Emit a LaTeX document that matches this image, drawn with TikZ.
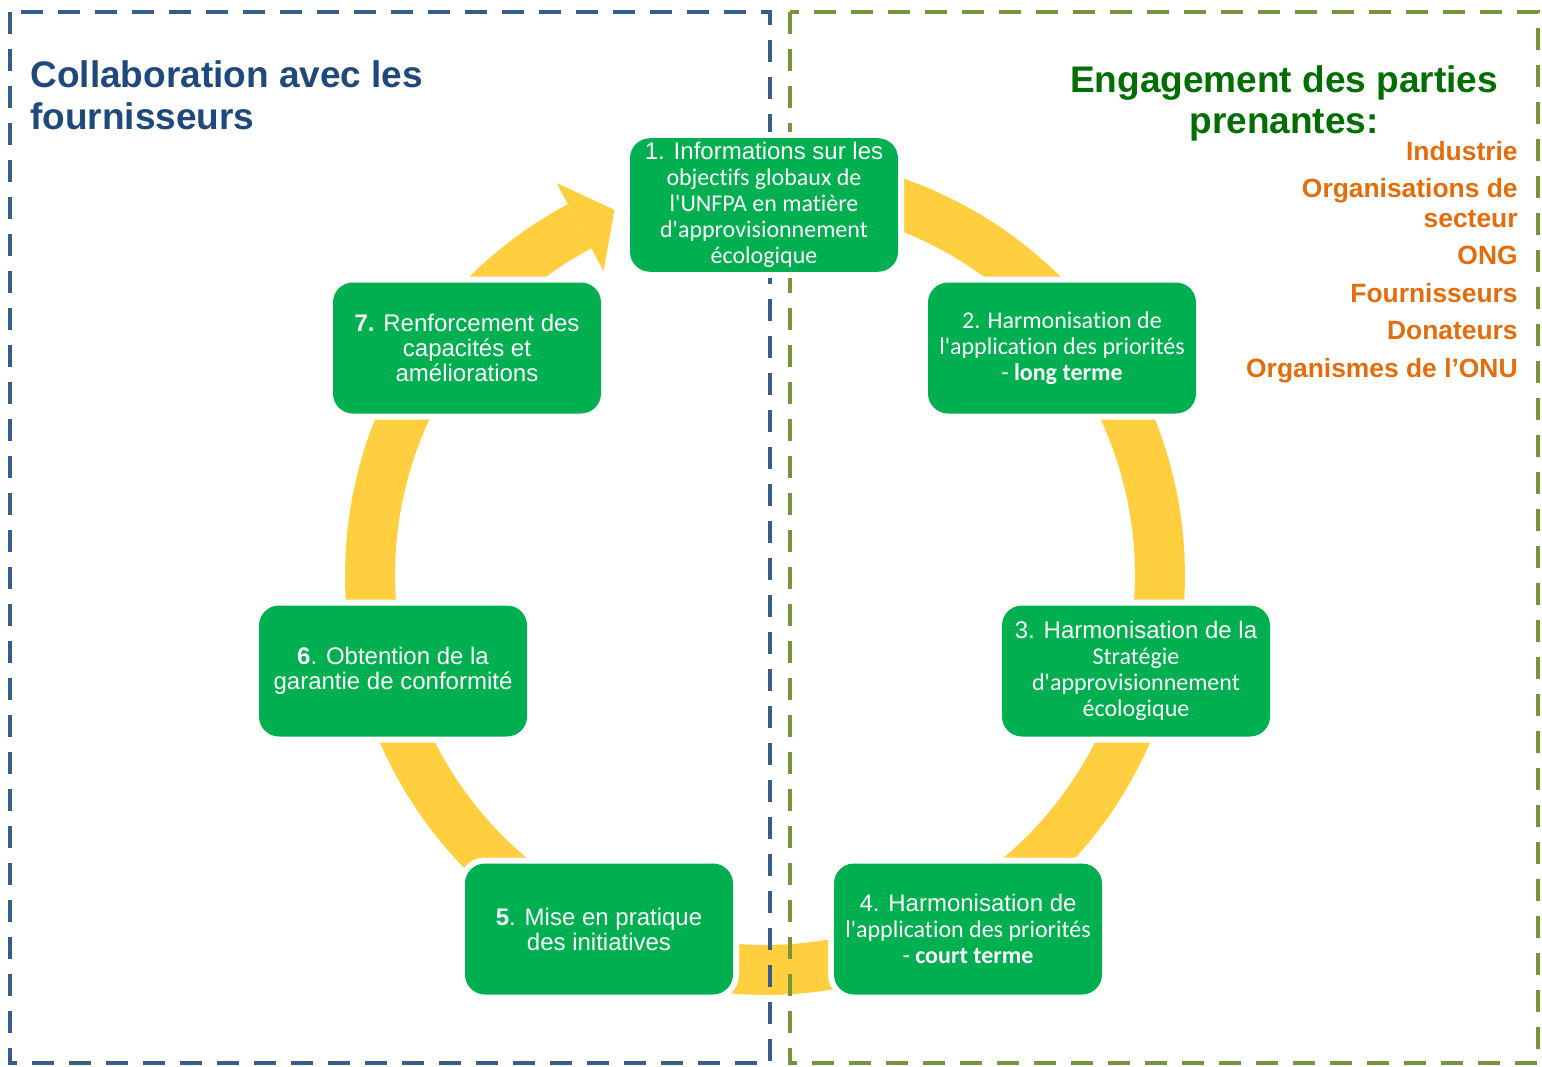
\documentclass[tikz,border=0pt]{standalone}
\usepackage{fontspec}
\setmainfont{Liberation Sans}
\newfontfamily\arialf{Liberation Sans}[Ligatures={TeXOff,CommonOff}]
\newfontfamily\calf{Carlito}[Ligatures={TeXOff,CommonOff,ContextualOff}, RawFeature={-liga;-clig;-calt}]
\definecolor{boxgreen}{HTML}{00B050}
\definecolor{ringyellow}{HTML}{FFCF3F}
\definecolor{dashblue}{HTML}{385D8A}
\definecolor{dashgreen}{HTML}{77933C}
\definecolor{titleblue}{HTML}{1F497D}
\definecolor{titlegreen}{HTML}{006E00}
\definecolor{listorange}{HTML}{E46C0A}
\begin{document}
\begin{tikzpicture}[x=0.5pt,y=-0.5pt,
  stepbox/.style={fill=boxgreen, preaction={draw=white, line width=6pt}, rounded corners=10pt,
    minimum width=134pt, minimum height=65.5pt, text=white, align=center, inner sep=2pt,
    font=\fontsize{12pt}{13pt}\selectfont\calf},
  framebox/.style={line width=2pt, dash pattern=on 11pt off 7.5pt},
  ring/.style={fill=ringyellow}
]
\useasboundingbox (0,0) rectangle (1542,1066);
% ring with arrow
\fill[ring] plot[domain=-75:242, samples=150] ({765+420*cos(\x)},{575+420*sin(\x)})
  -- plot[domain=242:-75, samples=150] ({765+370*cos(\x)},{575+370*sin(\x)}) -- cycle;
\fill[ring] ({765+444*cos(242)},{575+444*sin(242)}) -- ({765+395*cos(247.6)},{575+395*sin(247.6)})
  -- ({765+344*cos(242)},{575+344*sin(242)}) -- cycle;
% frames
\draw[framebox, dashblue] (10,12) rectangle (770,1063);
\draw[framebox, dashgreen] (790,12) rectangle (1538,1063);
% titles (base anchor = baseline of the last line)
\node[anchor=base west, inner sep=0, align=left, text=titleblue,
  font=\fontsize{18.5pt}{21pt}\selectfont\bfseries] (tleft) at (30,129) {Collaboration avec les\\fournisseurs};
\node[anchor=base, inner sep=0, align=center, text=titlegreen,
  font=\fontsize{18.5pt}{20.5pt}\selectfont\bfseries] (tright) at (1284,133) {Engagement des parties\\prenantes:};
\node[anchor=base east, inner sep=0, align=right, text=listorange,
  font=\fontsize{13.2pt}{14.75pt}\selectfont\bfseries] (list) at (1518,377)
  {Industrie\\[4pt]Organisations de\\secteur\\[4pt]ONG\\[4pt]Fournisseurs\\[4pt]Donateurs\\[4pt]Organismes de l’ONU};
% boxes
\node[stepbox] (b1) at (764,205) {{\arialf 1. Informations sur les}\\objectifs globaux de\\l'UNFPA en matière\\d'approvisionnement\\écologique};
\node[stepbox] (b2) at (1062,348) {2. Harmonisation de\\l'application des priorités\\- \textbf{long terme}};
\node[stepbox] (b3) at (1136,671) {{\arialf 3. Harmonisation de la}\\Stratégie\\d'approvisionnement\\écologique};
\node[stepbox] (b4) at (968,929) {{\arialf 4. Harmonisation de}\\l'application des priorités\\- \textbf{court terme}};
\node[stepbox, font=\fontsize{12pt}{12.5pt}\selectfont\arialf] (b5) at (599,929) {\textbf{5}. Mise en pratique\\des initiatives};
\node[stepbox, font=\fontsize{12pt}{12.5pt}\selectfont\arialf] (b6) at (393,671) {\textbf{6}. Obtention de la\\garantie de conformité};
\node[stepbox, font=\fontsize{12pt}{12.5pt}\selectfont\arialf] (b7) at (467,348) {\textbf{7.} Renforcement des\\capacités et\\améliorations};
\end{tikzpicture}
\end{document}
